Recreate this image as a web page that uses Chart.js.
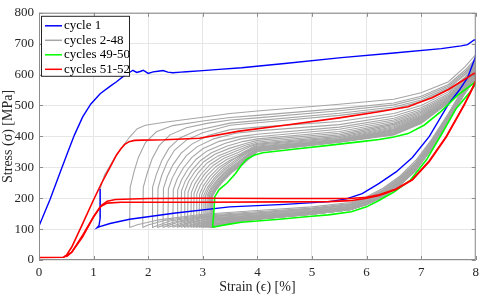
<!DOCTYPE html>
<html>
<head>
<meta charset="utf-8">
<script src="https://cdn.jsdelivr.net/npm/chart.js@4.4.1/dist/chart.umd.min.js"></script>
<style>
  html, body { margin: 0; padding: 0; background: #fff; }
  #wrap { width: 484px; height: 296px; }
</style>
</head>
<body>
<div id="wrap"><canvas id="loopChart"></canvas></div>
<script>
// cycle 1 (loading, plateau, unloading) [strain %, stress MPa]
var blueCurve = [
  [0,110],[0.2,195],[0.4,290],[0.53,350],[0.65,405],[0.8,463],[0.95,505],[1.12,538],[1.3,562],
  [1.42,577],[1.55,595],[1.65,606],[1.72,614],[1.79,607],[1.85,610],[1.91,614],[2.0,604],[2.09,609],
  [2.18,611],[2.27,613],[2.36,608],[2.45,606],[2.6,608],[2.7,609],[3.0,613],[3.3,617],[3.71,622],
  [4.5,636],[5.54,655],[6.5,670],[7.37,684],[7.73,693],[7.85,697],[7.97,712],[8.0,712],[8.0,660],
  [7.85,590],[7.7,550],[7.5,504],[7.15,400],[6.84,332],[6.54,285],[6.23,248],[5.92,215],[5.63,198],
  [5.32,189],[4.5,180],[3.49,172],[2.5,152],[1.66,132],[1.3,118],[1.1,107],[1.06,104],[1.1,112],
  [1.12,135],[1.12,230]
];

// cycles 51-52
var redCurveA = [
  [0,8],[0.45,9],[0.5,15],[0.6,42],[0.8,118],[1.0,195],[1.15,250],[1.3,300],[1.42,340],[1.5,360],
  [1.57,374],[1.65,383],[1.75,387],[1.9,388],[2.3,389],[2.94,394],[3.67,417],[4.5,436],[5.5,460],
  [6.2,479],[6.76,496],[7.0,512],[7.2,525],[7.5,552],[7.8,585],[7.97,604],[8.0,604],[8.0,578],
  [7.9,540],[7.79,504],[7.46,400],[7.15,321],[6.84,261],[6.54,230],[6.23,211],[6.0,203],[5.7,199],
  [4.5,199],[3.0,200],[2.0,199],[1.4,196],[1.25,190],[1.15,178],[1.0,140],[0.8,75],[0.6,25],[0.5,10]
];
var redCurveB = [
  [0.45,9],[0.6,25],[0.8,80],[1.0,140],[1.12,172],[1.25,184],[1.5,187],[3.0,187],[4.5,188],
  [5.3,189],[5.7,192],[6.0,200],[6.23,209],[6.54,228],[6.84,259],[7.15,319],[7.46,398],[7.79,502],[8.0,580]
];

// cycles 49-50 (on top of each other)
var greenCurve = [
  [3.18,106],[3.2,150],[3.22,205],[3.3,228],[3.45,250],[3.6,280],[3.7,305],[3.8,326],[3.95,340],
  [4.1,347],[4.7,359],[5.3,371],[5.9,383],[6.23,390],[6.5,398],[6.76,409],[7.06,437],[7.37,482],
  [7.68,535],[7.97,573],[8.0,578],[8.0,570],[7.88,540],[7.64,490],[7.4,415],[7.1,325],[6.8,258],
  [6.5,220],[6.2,190],[6.0,172],[5.72,156],[5.3,146],[4.94,141],[4.4,132],[3.71,122],[3.49,116],
  [3.3,110],[3.18,106]
];

// cycles 2-48: start of each loading branch up to strain 4
var greyOnset = [
  [[1.12,135],[1.12,230],[1.2,275],[1.4,335],[1.66,398],[1.8,425],[1.95,436],[2.3,446],[3.0,462],[3.5,474]],
  [[1.66,105],[1.67,235],[1.74,285],[1.82,332],[1.95,380],[2.15,415],[2.45,435],[3.0,450],[3.5,461]],
  [[1.90,105],[1.91,235],[1.98,280],[2.07,327],[2.2,370],[2.4,405],[2.7,428],[3.1,443],[3.5,453]],
  [[2.07,105],[2.08,235],[2.15,277],[2.25,322],[2.38,362],[2.58,395],[2.9,420],[3.5,443]],
  [[2.17,105],[2.18,233],[2.25,275],[2.35,317],[2.48,355],[2.7,388],[3.0,412],[3.5,436]],
  [[2.27,105],[2.28,232],[2.35,270],[2.45,307],[2.6,345],[2.8,375],[3.1,403],[3.5,422]],
  [[2.36,106],[2.37,230],[2.44,265],[2.55,302],[2.7,338],[2.9,367],[3.2,392],[3.6,410]],
  [[2.45,106],[2.46,228],[2.53,262],[2.64,297],[2.8,332],[3.0,360],[3.3,384],[3.7,400]],
  [[2.53,106],[2.54,226],[2.61,259],[2.72,292],[2.88,326],[3.08,353],[3.4,377],[3.7,392]],
  [[2.60,106],[2.61,224],[2.68,256],[2.8,290],[2.96,322],[3.16,347],[3.45,369],[3.75,384]],
  [[2.66,106],[2.67,222],[2.74,254],[2.86,287],[3.02,318],[3.22,342],[3.5,362],[3.8,378]],
  [[2.72,106],[2.73,220],[2.8,251],[2.92,283],[3.08,314],[3.28,337],[3.55,356],[3.8,372]],
  [[2.78,106],[2.79,218],[2.86,248],[2.98,280],[3.14,310],[3.34,333],[3.6,352],[3.85,370]],
  [[2.83,106],[2.84,216],[2.91,246],[3.03,277],[3.19,306],[3.39,329],[3.65,348],[3.85,366]],
  [[2.88,106],[2.89,214],[2.96,243],[3.08,274],[3.24,302],[3.44,325],[3.7,345],[3.9,364]],
  [[2.93,106],[2.94,212],[3.01,240],[3.13,270],[3.29,299],[3.49,322],[3.75,342],[3.9,361]],
  [[2.97,106],[2.98,210],[3.05,238],[3.17,267],[3.33,296],[3.53,322],[3.78,350]],
  [[3.01,106],[3.02,210],[3.09,236],[3.21,265],[3.37,294],[3.57,320],[3.8,348]],
  [[3.04,106],[3.05,209],[3.12,235],[3.24,263],[3.4,292],[3.6,318],[3.82,346]],
  [[3.07,106],[3.08,209],[3.15,234],[3.27,261],[3.43,290],[3.63,316],[3.84,344]],
  [[3.09,106],[3.10,208],[3.17,233],[3.29,260],[3.45,289],[3.65,315],[3.85,343]],
  [[3.11,106],[3.12,208],[3.19,232],[3.31,259],[3.47,288],[3.67,314],[3.86,342]],
  [[3.13,106],[3.14,207],[3.21,231],[3.33,258],[3.49,287],[3.69,313],[3.87,341]],
  [[3.14,106],[3.15,207],[3.22,230],[3.34,257],[3.5,286],[3.7,312],[3.88,340]],
  [[3.15,106],[3.16,206],[3.23,229],[3.35,256],[3.51,285],[3.71,311],[3.89,339]],
  [[3.16,106],[3.17,206],[3.24,229],[3.36,255],[3.52,284],[3.72,310],[3.9,338]],
  [[3.17,106],[3.18,206],[3.25,228],[3.37,254],[3.53,283],[3.73,309],[3.91,337]]
];

// upper branch, stress read at these strains
var upStrain = [4.0, 5.5, 6.5, 7.0, 7.5, 7.8, 8.0];
var greyUp = [
  [482,504,520,541,577,625,665],[468,490,508,530,568,614,652],[460,483,502,524,563,608,646],
  [451,475,495,518,558,603,641],[444,468,489,513,554,599,637],[430,448,474,500,544,592,632],
  [418,438,466,493,538,587,628],[407,430,459,487,533,583,625],[399,423,453,482,529,580,622],
  [392,416,448,478,526,577,620],[387,410,443,474,523,575,618],[382,405,439,470,521,573,616],
  [378,400,435,467,519,572,614],[375,396,431,464,517,571,612],[372,393,428,462,516,570,611],
  [369,391,425,460,515,569,610],[366,389,422,458,514,568,609],[364,388,420,456,513,567,608],
  [362,387,418,454,512,567,607],[360,386,416,452,512,566,606],[358,385,414,450,511,566,605],
  [356,384,412,448,511,565,604],[355,383,410,446,510,565,603],[354,383,408,445,510,564,602],
  [353,382,407,444,510,564,601],[352,382,406,443,509,563,600],[351,381,405,442,509,563,600]
];

// unloading branch, stress read at these strains
var downStrain = [8.0, 7.9, 7.8, 7.5, 7.2, 6.9, 6.6, 6.3, 6.0, 5.7, 5.0, 4.0];
var greyDown = [
  [650,600,565,475,392,322,270,232,205,186,172,160],[637,595,561,472,388,317,266,228,201,183,168,156],
  [631,591,559,469,385,314,263,225,199,180,166,153],[626,588,557,467,382,311,260,223,197,178,164,151],
  [622,586,555,466,380,309,258,221,195,177,162,149],[617,582,552,463,377,306,255,218,192,174,160,146],
  [613,580,551,462,375,304,253,217,191,173,158,144],[610,578,549,461,373,302,251,215,189,172,157,142],
  [607,576,548,459,372,300,250,214,188,170,156,141],[605,575,547,458,370,299,248,213,187,169,155,140],
  [603,573,546,458,369,298,247,211,186,168,154,139],[601,572,545,457,368,297,246,211,185,168,153,138],
  [599,571,545,456,367,296,245,210,185,167,152,137],[597,570,544,455,366,295,245,209,184,166,152,136],
  [596,570,543,455,366,294,244,209,183,166,151,136],[595,569,543,455,365,294,243,208,183,166,151,135],
  [594,568,542,454,365,293,243,207,182,165,150,135],[593,567,542,454,364,292,242,207,182,165,150,134],
  [592,567,542,453,364,292,242,207,182,164,149,134],[591,567,541,453,364,292,242,206,181,164,149,133],
  [590,566,541,453,363,291,241,206,181,164,149,133],[589,566,541,453,363,291,241,206,181,164,149,133],
  [588,566,540,452,363,291,241,205,180,163,148,133],[587,565,540,452,362,290,240,205,180,163,148,132],
  [586,565,540,452,362,290,240,205,180,163,148,132],[585,565,540,452,362,290,240,205,180,163,148,132],
  [585,565,540,452,362,290,240,205,180,163,148,132]
];

// end of each unloading, down to the residual strain
var greyTail = [
  [[3.0,148],[2.2,130],[1.8,114],[1.66,105]],[[3.0,145],[2.3,128],[2.0,113],[1.90,105]],
  [[3.0,142],[2.4,126],[2.17,112],[2.07,105]],[[3.0,140],[2.5,124],[2.27,112],[2.17,105]],
  [[3.0,138],[2.55,122],[2.37,112],[2.27,105]],[[3.0,135],[2.65,121],[2.46,111],[2.36,106]],
  [[3.1,134],[2.75,121],[2.55,111],[2.45,106]],[[3.1,132],[2.8,120],[2.63,111],[2.53,106]],
  [[3.2,132],[2.9,120],[2.7,111],[2.60,106]],[[3.2,131],[2.95,119],[2.76,111],[2.66,106]],
  [[3.3,130],[3.0,119],[2.82,110],[2.72,106]],[[3.3,129],[3.05,118],[2.88,110],[2.78,106]],
  [[3.3,128],[3.1,118],[2.93,110],[2.83,106]],[[3.4,128],[3.15,118],[2.98,110],[2.88,106]],
  [[3.4,127],[3.2,117],[3.03,110],[2.93,106]],[[3.4,126],[3.2,117],[3.07,110],[2.97,106]],
  [[3.5,126],[3.25,117],[3.1,110],[3.01,106]],[[3.5,125],[3.3,117],[3.13,110],[3.04,106]],
  [[3.5,125],[3.3,116],[3.16,110],[3.07,106]],[[3.5,124],[3.3,116],[3.18,110],[3.09,106]],
  [[3.5,124],[3.35,116],[3.2,110],[3.11,106]],[[3.5,124],[3.35,116],[3.22,110],[3.13,106]],
  [[3.55,124],[3.4,116],[3.23,110],[3.14,106]],[[3.55,123],[3.4,116],[3.24,110],[3.15,106]],
  [[3.55,123],[3.4,115],[3.25,109],[3.16,106]],[[3.55,123],[3.4,115],[3.26,109],[3.17,106]],
  [[3.55,122],[3.4,115],[3.27,109],[3.18,106]]
];

var xTicks = [0, 1, 2, 3, 4, 5, 6, 7, 8];
var yTicks = [0, 100, 200, 300, 400, 500, 600, 700, 800];
var legendNames = ['cycle 1', 'cycles 2-48', 'cycles 49-50', 'cycles 51-52'];
var legendColors = ['#0000ff', '#a6a6a6', '#00ff00', '#ff0000'];

function toXY(list) {
  return list.map(function (p) { return { x: p[0], y: p[1] }; });
}

function greyCycle(i) {
  var pts = toXY(greyOnset[i]);
  upStrain.forEach(function (s, j) { pts.push({ x: s, y: greyUp[i][j] }); });
  downStrain.forEach(function (s, j) { pts.push({ x: s, y: greyDown[i][j] }); });
  return pts.concat(toXY(greyTail[i]));
}

function lineSet(label, pts, color, width) {
  return {
    label: label, data: pts, showLine: true, borderColor: color,
    borderWidth: width, pointRadius: 0, tension: 0, fill: false
  };
}

// first dataset is drawn on top
var datasets = [
  lineSet('cycles 51-52', toXY(redCurveA), '#ff0000', 1.6),
  lineSet('cycles 51-52', toXY(redCurveB), '#ff0000', 1.6),
  lineSet('cycles 49-50', toXY(greenCurve), '#00ff00', 1.6),
  lineSet('cycle 1', toXY(blueCurve), '#0000ff', 1.4)
];
for (var i = 0; i < greyOnset.length; i++) {
  datasets.push(lineSet('cycles 2-48', greyCycle(i), '#a6a6a6', 1.1));
}

var serif = '"Liberation Serif", "DejaVu Serif", serif';

// box round the axes and ticks pointing inwards
var framePlugin = {
  id: 'frame',
  afterDatasetsDraw: function (chart) {
    var ctx = chart.ctx, a = chart.chartArea;
    var xs = chart.scales.x, ys = chart.scales.y;
    ctx.save();
    ctx.strokeStyle = '#8c8c8c';
    ctx.lineWidth = 1;
    ctx.strokeRect(a.left + 0.5, a.top + 0.5, a.right - a.left - 1, a.bottom - a.top - 1);
    ctx.beginPath();
    xTicks.forEach(function (v) {
      var px = Math.round(xs.getPixelForValue(v)) + 0.5;
      ctx.moveTo(px, a.bottom); ctx.lineTo(px, a.bottom - 4);
      ctx.moveTo(px, a.top); ctx.lineTo(px, a.top + 4);
    });
    yTicks.forEach(function (v) {
      var py = Math.round(ys.getPixelForValue(v)) + 0.5;
      ctx.moveTo(a.left, py); ctx.lineTo(a.left + 4, py);
      ctx.moveTo(a.right, py); ctx.lineTo(a.right - 4, py);
    });
    ctx.stroke();
    ctx.restore();
  }
};

// legend box in the upper left corner of the axes
var legendPlugin = {
  id: 'boxLegend',
  afterDraw: function (chart) {
    var ctx = chart.ctx, a = chart.chartArea;
    var left = a.left + 2, top = a.top + 3, w = 88, h = 60;
    ctx.save();
    ctx.fillStyle = '#ffffff';
    ctx.fillRect(left, top, w, h);
    ctx.strokeStyle = '#262626';
    ctx.lineWidth = 1;
    ctx.strokeRect(left + 0.5, top + 0.5, w, h);
    ctx.font = '13px ' + serif;
    ctx.textBaseline = 'middle';
    legendNames.forEach(function (name, k) {
      var y = top + 10 + k * 14.5;
      ctx.strokeStyle = legendColors[k];
      ctx.lineWidth = 1.5;
      ctx.beginPath();
      ctx.moveTo(left + 4, y); ctx.lineTo(left + 21, y);
      ctx.stroke();
      ctx.fillStyle = '#000000';
      ctx.fillText(name, left + 23, y);
    });
    ctx.restore();
  }
};

new Chart(document.getElementById('loopChart'), {
  type: 'scatter',
  data: { datasets: datasets },
  options: {
    responsive: true,
    maintainAspectRatio: false,
    animation: false,
    layout: { padding: { top: 6, right: 7, left: 0, bottom: 0 } },
    plugins: { legend: { display: false }, tooltip: { enabled: false } },
    scales: {
      x: {
        type: 'linear', min: 0, max: 8,
        afterBuildTicks: function (s) { s.ticks = xTicks.map(function (v) { return { value: v }; }); },
        afterFit: function (s) { s.height = 36; },
        grid: { color: '#e6e6e6', tickLength: 0 },
        border: { display: false },
        ticks: { font: { family: serif, size: 13 }, color: '#262626', padding: 5, maxRotation: 0 },
        title: { display: true, text: 'Strain (ϵ) [%]', font: { family: serif, size: 14 }, color: '#262626', padding: { top: 0, bottom: 0 } }
      },
      y: {
        type: 'linear', min: 0, max: 800,
        afterBuildTicks: function (s) { s.ticks = yTicks.map(function (v) { return { value: v }; }); },
        afterFit: function (s) { s.width = 39; },
        grid: { color: '#e6e6e6', tickLength: 0 },
        border: { display: false },
        ticks: { font: { family: serif, size: 13 }, color: '#262626', padding: 5 },
        title: { display: true, text: 'Stress (σ) [MPa]', font: { family: serif, size: 14 }, color: '#262626', padding: { top: 0, bottom: 0 } }
      }
    }
  },
  plugins: [framePlugin, legendPlugin]
});
</script>
</body>
</html>
